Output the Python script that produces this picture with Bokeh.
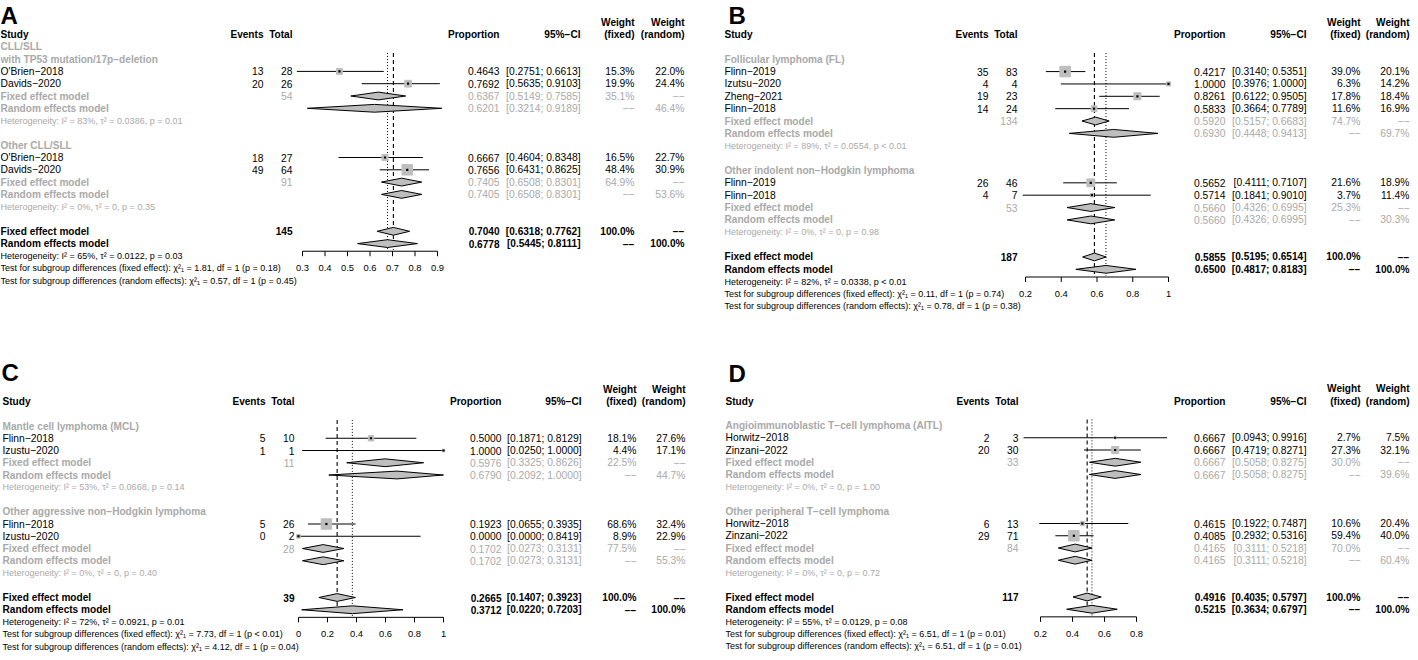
import math
from bokeh.plotting import figure
from bokeh.models import Range1d, ColumnDataSource
from bokeh.layouts import gridplot
from bokeh.embed import file_html
from bokeh.resources import INLINE
from bokeh.core.properties import value

FONT = "Liberation Sans"
INK = "#000000"
GRAY = "#A9A9A9"
BOXC = "#BEBEBE"
DASH2 = "\u2212\u2212"

# ---------------- Panel A ----------------
A_groups = ["CLL/SLL\nwith TP53 mutation/17p\u2212deletion", "Other CLL/SLL"]
A_study = ["O'Brien\u22122018", "Davids\u22122020", "O'Brien\u22122018", "Davids\u22122020"]
A_group = [0, 0, 1, 1]
A_events = [13, 20, 18, 49]
A_total = [28, 26, 27, 64]
A_prop = [0.4643, 0.7692, 0.6667, 0.7656]
A_lower = [0.2751, 0.5635, 0.4604, 0.6431]
A_upper = [0.6613, 0.9103, 0.8348, 0.8625]
A_w_fixed = [15.3, 19.9, 16.5, 48.4]
A_w_random = [22.0, 24.4, 22.7, 30.9]
A_sub_n = [54, 91]
A_sub_fixed = [0.6367, 0.7405]
A_sub_fixed_lower = [0.5149, 0.6508]
A_sub_fixed_upper = [0.7585, 0.8301]
A_sub_fixed_w = [35.1, 64.9]
A_sub_random = [0.6201, 0.7405]
A_sub_random_lower = [0.3214, 0.6508]
A_sub_random_upper = [0.9189, 0.8301]
A_sub_random_w = [46.4, 53.6]
A_sub_het = ["I\u00b2 = 83%,  \u03c4\u00b2 = 0.0386,  p = 0.01", "I\u00b2 = 0%,  \u03c4\u00b2 = 0,  p = 0.35"]
A_overall_n = 145
A_overall_fixed = [0.7040, 0.6318, 0.7762]
A_overall_random = [0.6778, 0.5445, 0.8111]
A_overall_het = "I\u00b2 = 65%,  \u03c4\u00b2 = 0.0122,  p = 0.03"
A_tests = ["\u03c7\u00b2\u2081 = 1.81, df = 1 (p = 0.18)", "\u03c7\u00b2\u2081 = 0.57, df = 1 (p = 0.45)"]
A_ticks = [0.3, 0.4, 0.5, 0.6, 0.7, 0.8, 0.9]

# ---------------- Panel B ----------------
B_groups = ["Follicular lymphoma (FL)", "Other indolent non\u2212Hodgkin lymphoma"]
B_study = ["Flinn\u22122019", "Izutsu\u22122020", "Zheng\u22122021", "Flinn\u22122018", "Flinn\u22122019", "Flinn\u22122018"]
B_group = [0, 0, 0, 0, 1, 1]
B_events = [35, 4, 19, 14, 26, 4]
B_total = [83, 4, 23, 24, 46, 7]
B_prop = [0.4217, 1.0000, 0.8261, 0.5833, 0.5652, 0.5714]
B_lower = [0.3140, 0.3976, 0.6122, 0.3664, 0.4111, 0.1841]
B_upper = [0.5351, 1.0000, 0.9505, 0.7789, 0.7107, 0.9010]
B_w_fixed = [39.0, 6.3, 17.8, 11.6, 21.6, 3.7]
B_w_random = [20.1, 14.2, 18.4, 16.9, 18.9, 11.4]
B_sub_n = [134, 53]
B_sub_fixed = [0.5920, 0.5660]
B_sub_fixed_lower = [0.5157, 0.4326]
B_sub_fixed_upper = [0.6683, 0.6995]
B_sub_fixed_w = [74.7, 25.3]
B_sub_random = [0.6930, 0.5660]
B_sub_random_lower = [0.4448, 0.4326]
B_sub_random_upper = [0.9413, 0.6995]
B_sub_random_w = [69.7, 30.3]
B_sub_het = ["I\u00b2 = 89%,  \u03c4\u00b2 = 0.0554,  p < 0.01", "I\u00b2 = 0%,  \u03c4\u00b2 = 0,  p = 0.98"]
B_overall_n = 187
B_overall_fixed = [0.5855, 0.5195, 0.6514]
B_overall_random = [0.6500, 0.4817, 0.8183]
B_overall_het = "I\u00b2 = 82%,  \u03c4\u00b2 = 0.0338,  p < 0.01"
B_tests = ["\u03c7\u00b2\u2081 = 0.11, df = 1 (p = 0.74)", "\u03c7\u00b2\u2081 = 0.78, df = 1 (p = 0.38)"]
B_ticks = [0.2, 0.4, 0.6, 0.8, 1.0]

# ---------------- Panel C ----------------
C_groups = ["Mantle cell lymphoma (MCL)", "Other aggressive non\u2212Hodgkin lymphoma"]
C_study = ["Flinn\u22122018", "Izustu\u22122020", "Flinn\u22122018", "Izustu\u22122020"]
C_group = [0, 0, 1, 1]
C_events = [5, 1, 5, 0]
C_total = [10, 1, 26, 2]
C_prop = [0.5000, 1.0000, 0.1923, 0.0000]
C_lower = [0.1871, 0.0250, 0.0655, 0.0000]
C_upper = [0.8129, 1.0000, 0.3935, 0.8419]
C_w_fixed = [18.1, 4.4, 68.6, 8.9]
C_w_random = [27.6, 17.1, 32.4, 22.9]
C_sub_n = [11, 28]
C_sub_fixed = [0.5976, 0.1702]
C_sub_fixed_lower = [0.3325, 0.0273]
C_sub_fixed_upper = [0.8626, 0.3131]
C_sub_fixed_w = [22.5, 77.5]
C_sub_random = [0.6790, 0.1702]
C_sub_random_lower = [0.2092, 0.0273]
C_sub_random_upper = [1.0000, 0.3131]
C_sub_random_w = [44.7, 55.3]
C_sub_het = ["I\u00b2 = 53%,  \u03c4\u00b2 = 0.0668,  p = 0.14", "I\u00b2 = 0%,  \u03c4\u00b2 = 0,  p = 0.40"]
C_overall_n = 39
C_overall_fixed = [0.2665, 0.1407, 0.3923]
C_overall_random = [0.3712, 0.0220, 0.7203]
C_overall_het = "I\u00b2 = 72%,  \u03c4\u00b2 = 0.0921,  p = 0.01"
C_tests = ["\u03c7\u00b2\u2081 = 7.73, df = 1 (p < 0.01)", "\u03c7\u00b2\u2081 = 4.12, df = 1 (p = 0.04)"]
C_ticks = [0.0, 0.2, 0.4, 0.6, 0.8, 1.0]

# ---------------- Panel D ----------------
D_groups = ["Angioimmunoblastic T\u2212cell lymphoma (AITL)", "Other peripheral T\u2212cell lymphoma"]
D_study = ["Horwitz\u22122018", "Zinzani\u22122022", "Horwitz\u22122018", "Zinzani\u22122022"]
D_group = [0, 0, 1, 1]
D_events = [2, 20, 6, 29]
D_total = [3, 30, 13, 71]
D_prop = [0.6667, 0.6667, 0.4615, 0.4085]
D_lower = [0.0943, 0.4719, 0.1922, 0.2932]
D_upper = [0.9916, 0.8271, 0.7487, 0.5316]
D_w_fixed = [2.7, 27.3, 10.6, 59.4]
D_w_random = [7.5, 32.1, 20.4, 40.0]
D_sub_n = [33, 84]
D_sub_fixed = [0.6667, 0.4165]
D_sub_fixed_lower = [0.5058, 0.3111]
D_sub_fixed_upper = [0.8275, 0.5218]
D_sub_fixed_w = [30.0, 70.0]
D_sub_random = [0.6667, 0.4165]
D_sub_random_lower = [0.5058, 0.3111]
D_sub_random_upper = [0.8275, 0.5218]
D_sub_random_w = [39.6, 60.4]
D_sub_het = ["I\u00b2 = 0%,  \u03c4\u00b2 = 0,  p = 1.00", "I\u00b2 = 0%,  \u03c4\u00b2 = 0,  p = 0.72"]
D_overall_n = 117
D_overall_fixed = [0.4916, 0.4035, 0.5797]
D_overall_random = [0.5215, 0.3634, 0.6797]
D_overall_het = "I\u00b2 = 55%,  \u03c4\u00b2 = 0.0129,  p = 0.08"
D_tests = ["\u03c7\u00b2\u2081 = 6.51, df = 1 (p = 0.01)", "\u03c7\u00b2\u2081 = 6.51, df = 1 (p = 0.01)"]
D_ticks = [0.2, 0.4, 0.6, 0.8]


def pack(prefix):
    g = globals()
    keys = ["groups", "study", "group", "events", "total", "prop", "lower", "upper",
            "w_fixed", "w_random", "sub_n", "sub_fixed", "sub_fixed_lower", "sub_fixed_upper",
            "sub_fixed_w", "sub_random", "sub_random_lower", "sub_random_upper", "sub_random_w",
            "sub_het", "overall_n", "overall_fixed", "overall_random", "overall_het", "tests", "ticks"]
    return {k: g[prefix + "_" + k] for k in keys}


# layout (pixel positions inside each panel)
LAYOUT = {
    "A": dict(x0=1, y0=6, w=702, h=326, top=40, rowh=12.3, letter_y=21, study=1, letter=1,
              events=264, total=293, prop=500, ci=581, wf=635, wr=685, tick_px=(303, 438)),
    "B": dict(x0=710, y0=6, w=708, h=326, top=40, rowh=12.36, letter_y=21, study=732, letter=736,
              events=996, total=1025, prop=1233, ci=1314, wf=1368, wr=1417, tick_px=(1033, 1176)),
    "C": dict(x0=1, y0=334, w=702, h=326, top=409, rowh=12.25, letter_y=380, study=3, letter=2,
              events=266, total=295, prop=502, ci=582, wf=637, wr=686, tick_px=(299, 444)),
    "D": dict(x0=710, y0=334, w=708, h=326, top=408.5, rowh=12.25, letter_y=381, study=733, letter=736,
              events=997, total=1026, prop=1233, ci=1314, wf=1368, wr=1417, tick_px=(1048, 1144)),
}

PLAIN = "10.3px"
BOLD = "10.1px"
SMALL = "9px"


def build(key):
    d = pack(key)
    L = LAYOUT[key]
    p = figure(width=L["w"], height=L["h"],
               x_range=Range1d(L["x0"], L["x0"] + L["w"]),
               y_range=Range1d(L["y0"] + L["h"], L["y0"]),
               output_backend="svg", toolbar_location=None, min_border=0,
               x_axis_location=None, y_axis_location=None, outline_line_color=None)
    p.grid.visible = False
    t0, t1 = d["ticks"][0], d["ticks"][-1]
    s = (L["tick_px"][1] - L["tick_px"][0]) / (t1 - t0)
    p.extra_x_ranges = {"prop": Range1d(t0 + (L["x0"] - L["tick_px"][0]) / s,
                                        t0 + (L["x0"] + L["w"] - L["tick_px"][0]) / s)}

    def Y(r):
        return L["top"] + r * L["rowh"]

    texts = {}

    def T(x, y, s_, align="left", size=PLAIN, color=INK, style="normal"):
        k = (align, size, color, style)
        e = texts.setdefault(k, dict(x=[], y=[], text=[]))
        e["x"].append(x)
        e["y"].append(y)
        e["text"].append(s_)

    fp = lambda v: f"{v:.4f}"
    fci = lambda lo, hi: f"[{lo:.4f}; {hi:.4f}]"
    fw = lambda w: f"{w:.1f}%"

    # letter and header
    T(L["letter"], L["letter_y"], key, size="24px", style="bold")
    T(L["study"], Y(0), "Study", style="bold", size=BOLD)
    T(L["events"], Y(0), "Events", "right", BOLD, INK, "bold")
    T(L["total"], Y(0), "Total", "right", BOLD, INK, "bold")
    T(L["prop"], Y(0), "Proportion", "right", BOLD, INK, "bold")
    T(L["ci"], Y(0), "95%\u2212CI", "right", BOLD, INK, "bold")
    T(L["wf"], Y(-1), "Weight", "right", BOLD, INK, "bold")
    T(L["wf"], Y(0), "(fixed)", "right", BOLD, INK, "bold")
    T(L["wr"], Y(-1), "Weight", "right", BOLD, INK, "bold")
    T(L["wr"], Y(0), "(random)", "right", BOLD, INK, "bold")

    seg = dict(x0=[], x1=[], y=[])
    box = dict(x=[], y=[], size=[])
    dia = dict(xs=[], ys=[])
    maxw = max(d["w_fixed"])
    hh = 3.9

    def diamond(est, lo, hi, y):
        dia["xs"].append([lo, est, hi, est])
        dia["ys"].append([y, y - hh, y, y + hh])

    r = 2
    for g, name in enumerate(d["groups"]):
        lines = name.split("\n")
        for k, ln in enumerate(lines):
            T(L["study"], Y(r - (len(lines) - 1 - k) * 1.05), ln, "left", BOLD, GRAY, "bold")
        r += 1
        for i, gi in enumerate(d["group"]):
            if gi != g:
                continue
            y = Y(r)
            T(L["study"], y, d["study"][i])
            T(L["events"], y, str(d["events"][i]), "right")
            T(L["total"], y, str(d["total"][i]), "right")
            T(L["prop"], y, fp(d["prop"][i]), "right")
            T(L["ci"], y, fci(d["lower"][i], d["upper"][i]), "right")
            T(L["wf"], y, fw(d["w_fixed"][i]), "right")
            T(L["wr"], y, fw(d["w_random"][i]), "right")
            seg["x0"].append(d["lower"][i]); seg["x1"].append(d["upper"][i]); seg["y"].append(y)
            box["x"].append(d["prop"][i]); box["y"].append(y)
            box["size"].append(10.5 * math.sqrt(d["w_fixed"][i] / maxw))
            r += 1
        y = Y(r)
        T(L["study"], y, "Fixed effect model", "left", BOLD, GRAY, "bold")
        T(L["total"], y, str(d["sub_n"][g]), "right", PLAIN, GRAY)
        T(L["prop"], y, fp(d["sub_fixed"][g]), "right", PLAIN, GRAY)
        T(L["ci"], y, fci(d["sub_fixed_lower"][g], d["sub_fixed_upper"][g]), "right", PLAIN, GRAY)
        T(L["wf"], y, fw(d["sub_fixed_w"][g]), "right", PLAIN, GRAY)
        T(L["wr"], y, DASH2, "right", PLAIN, GRAY)
        diamond(d["sub_fixed"][g], d["sub_fixed_lower"][g], d["sub_fixed_upper"][g], y)
        r += 1
        y = Y(r)
        T(L["study"], y, "Random effects model", "left", BOLD, GRAY, "bold")
        T(L["prop"], y, fp(d["sub_random"][g]), "right", PLAIN, GRAY)
        T(L["ci"], y, fci(d["sub_random_lower"][g], d["sub_random_upper"][g]), "right", PLAIN, GRAY)
        T(L["wf"], y, DASH2, "right", PLAIN, GRAY)
        T(L["wr"], y, fw(d["sub_random_w"][g]), "right", PLAIN, GRAY)
        diamond(d["sub_random"][g], d["sub_random_lower"][g], d["sub_random_upper"][g], y)
        r += 1
        T(L["study"], Y(r), "Heterogeneity: " + d["sub_het"][g], "left", SMALL, GRAY)
        r += 2

    fx = d["overall_fixed"]
    rx = d["overall_random"]
    y = Y(r)
    T(L["study"], y, "Fixed effect model", "left", BOLD, INK, "bold")
    T(L["total"], y, str(d["overall_n"]), "right", BOLD, INK, "bold")
    T(L["prop"], y, fp(fx[0]), "right", BOLD, INK, "bold")
    T(L["ci"], y, fci(fx[1], fx[2]), "right", BOLD, INK, "bold")
    T(L["wf"], y, "100.0%", "right", BOLD, INK, "bold")
    T(L["wr"], y, DASH2, "right", BOLD, INK, "bold")
    diamond(fx[0], fx[1], fx[2], y)
    y = Y(r + 1)
    T(L["study"], y, "Random effects model", "left", BOLD, INK, "bold")
    T(L["prop"], y, fp(rx[0]), "right", BOLD, INK, "bold")
    T(L["ci"], y, fci(rx[1], rx[2]), "right", BOLD, INK, "bold")
    T(L["wf"], y, DASH2, "right", BOLD, INK, "bold")
    T(L["wr"], y, "100.0%", "right", BOLD, INK, "bold")
    diamond(rx[0], rx[1], rx[2], y)
    T(L["study"], Y(r + 2), "Heterogeneity: " + d["overall_het"], "left", SMALL)
    T(L["study"], Y(r + 3), "Test for subgroup differences (fixed effect): " + d["tests"][0], "left", SMALL)
    T(L["study"], Y(r + 4), "Test for subgroup differences (random effects): " + d["tests"][1], "left", SMALL)

    axis_y = Y(r + 1 + 0.62)
    # reference lines
    p.segment(x0=[fx[0]], y0=[Y(1.5)], x1=[fx[0]], y1=[axis_y - 1.5], x_range_name="prop",
              line_color=INK, line_width=1.1, line_dash="4 3")
    p.segment(x0=[rx[0]], y0=[Y(1.5)], x1=[rx[0]], y1=[axis_y - 1.5], x_range_name="prop",
              line_color=INK, line_width=1.0, line_dash="1 2")

    # study CIs, boxes, points
    p.segment(x0="x0", y0="y", x1="x1", y1="y", source=ColumnDataSource(seg), x_range_name="prop",
              line_color=INK, line_width=1.0)
    p.scatter(x="x", y="y", size="size", source=ColumnDataSource(box), marker="square",
              x_range_name="prop", fill_color=BOXC, line_color=BOXC)
    p.scatter(x="x", y="y", source=ColumnDataSource(box), marker="square", size=2.2,
              x_range_name="prop", fill_color=INK, line_color=None)
    # diamonds
    p.patches(xs="xs", ys="ys", source=ColumnDataSource(dia), x_range_name="prop",
              fill_color=BOXC, line_color=INK, line_width=1.0)

    # x axis (proportion scale)
    ticks = d["ticks"]
    p.segment(x0=[ticks[0]], y0=[axis_y], x1=[ticks[-1]], y1=[axis_y], x_range_name="prop",
              line_color=INK, line_width=1.0)
    p.segment(x0=ticks, y0=[axis_y] * len(ticks), x1=ticks, y1=[axis_y + 5] * len(ticks),
              x_range_name="prop", line_color=INK, line_width=1.0)
    p.text(x=ticks, y=[Y(r + 3)] * len(ticks), text=[f"{t:g}" for t in ticks], x_range_name="prop",
           text_align="center", text_baseline="middle", text_font=value(FONT),
           text_font_size=value("9.4px"), text_color=INK)

    for (align, size, color, style), e in texts.items():
        p.text(x="x", y="y", text="text", source=ColumnDataSource(e),
               text_align=align, text_baseline="middle", text_font=value(FONT),
               text_font_size=value(size), text_color=color, text_font_style=style)
    return p


pA, pB, pC, pD = (build(k) for k in "ABCD")
grid = gridplot([[pA, pB], [pC, pD]], toolbar_location=None)
open("out.html", "w").write(file_html(grid, INLINE))
